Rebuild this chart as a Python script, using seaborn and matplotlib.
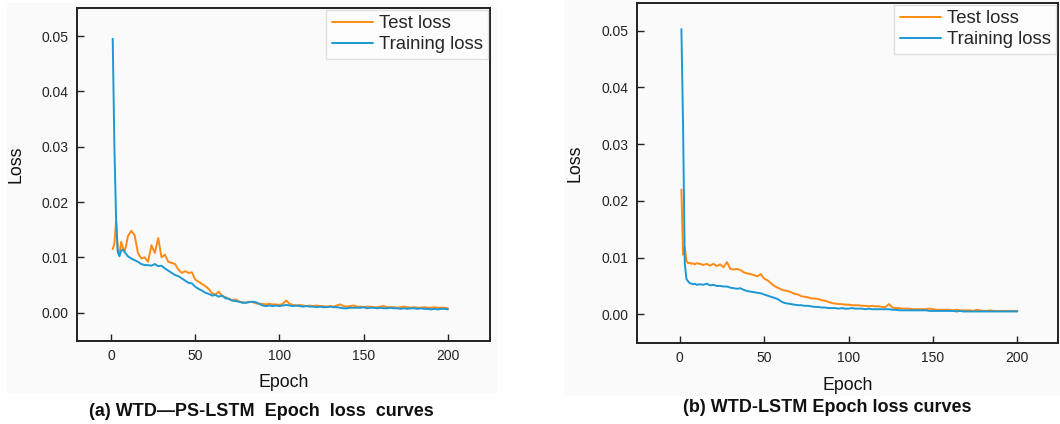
import numpy as np
import pandas as pd
import matplotlib
matplotlib.use("Agg")
import matplotlib.pyplot as plt
import seaborn as sns
from matplotlib.patches import Rectangle

# ---------------- data ----------------
epochs = list(range(1, 11)) + list(range(12, 201, 2))

test_a = [0.0115, 0.0125, 0.0165, 0.0112, 0.0105, 0.0128, 0.0118, 0.0110, 0.0122, 0.0138,
          0.0148, 0.0140, 0.0108, 0.0098, 0.0100, 0.0092, 0.0122, 0.0108, 0.0135, 0.0100,
          0.0105, 0.0092, 0.0090, 0.0088, 0.0078, 0.0072, 0.0075, 0.0072, 0.0073, 0.0060,
          0.0056, 0.0052, 0.0048, 0.0043, 0.0035, 0.0033, 0.0038, 0.0030, 0.0028, 0.0025,
          0.0022, 0.0024, 0.0020, 0.0019, 0.0018, 0.0020, 0.0019, 0.0017, 0.0016, 0.0016,
          0.0015, 0.0016, 0.0015, 0.0015, 0.0014, 0.0016, 0.0022, 0.0016, 0.0014, 0.0013,
          0.0014, 0.0013, 0.0012, 0.0013, 0.0012, 0.0013, 0.0012, 0.0012, 0.0011, 0.0012,
          0.0011, 0.0013, 0.0015, 0.0012, 0.0011, 0.0012, 0.0013, 0.0011, 0.0011, 0.0010,
          0.0011, 0.0011, 0.0010, 0.0010, 0.0011, 0.0012, 0.0010, 0.0010, 0.0010, 0.0009,
          0.0010, 0.0011, 0.0010, 0.0009, 0.0010, 0.0009, 0.0009, 0.0010, 0.0009, 0.0009,
          0.0010, 0.0009, 0.0009, 0.0009, 0.0008]

train_a = [0.0495, 0.0300, 0.0170, 0.0110, 0.0102, 0.0112, 0.0114, 0.0110, 0.0106, 0.0102,
           0.0098, 0.0095, 0.0092, 0.0088, 0.0086, 0.0086, 0.0085, 0.0088, 0.0084, 0.0085,
           0.0080, 0.0076, 0.0072, 0.0068, 0.0066, 0.0062, 0.0058, 0.0054, 0.0053, 0.0047,
           0.0043, 0.0040, 0.0036, 0.0034, 0.0031, 0.0032, 0.0029, 0.0031, 0.0026, 0.0025,
           0.0022, 0.0021, 0.0020, 0.0018, 0.0018, 0.0019, 0.0020, 0.0019, 0.0016, 0.0013,
           0.0012, 0.0013, 0.0012, 0.0013, 0.0012, 0.0013, 0.0014, 0.0013, 0.0012, 0.0013,
           0.0012, 0.0011, 0.0012, 0.0011, 0.0011, 0.0010, 0.0011, 0.0010, 0.0010, 0.0011,
           0.0010, 0.0010, 0.0009, 0.0008, 0.0008, 0.0009, 0.0009, 0.0009, 0.0009, 0.0010,
           0.0008, 0.0009, 0.0009, 0.0008, 0.0009, 0.0008, 0.0008, 0.0009, 0.0008, 0.0008,
           0.0007, 0.0008, 0.0007, 0.0008, 0.0008, 0.0007, 0.0008, 0.0007, 0.0007, 0.0006,
           0.0007, 0.0006, 0.0007, 0.0007, 0.0006]

test_b = [0.0220, 0.0105, 0.0118, 0.0094, 0.0090, 0.0091, 0.0089, 0.0090, 0.0088, 0.0090,
          0.0089, 0.0087, 0.0089, 0.0086, 0.0089, 0.0085, 0.0088, 0.0083, 0.0092, 0.0080,
          0.0079, 0.0080, 0.0078, 0.0074, 0.0072, 0.0071, 0.0069, 0.0067, 0.0071, 0.0063,
          0.0060, 0.0055, 0.0050, 0.0047, 0.0044, 0.0042, 0.0041, 0.0039, 0.0036, 0.0035,
          0.0032, 0.0031, 0.0030, 0.0028, 0.0028, 0.0027, 0.0025, 0.0024, 0.0022, 0.0020,
          0.0019, 0.0018, 0.0018, 0.0017, 0.0017, 0.0016, 0.0016, 0.0016, 0.0015, 0.0015,
          0.0014, 0.0015, 0.0014, 0.0014, 0.0013, 0.0013, 0.0018, 0.0012, 0.0011, 0.0011,
          0.0010, 0.0010, 0.0010, 0.0009, 0.0009, 0.0009, 0.0009, 0.0009, 0.0010, 0.0009,
          0.0008, 0.0008, 0.0008, 0.0008, 0.0008, 0.0007, 0.0008, 0.0007, 0.0007, 0.0007,
          0.0007, 0.0006, 0.0008, 0.0007, 0.0006, 0.0006, 0.0007, 0.0006, 0.0006, 0.0006,
          0.0006, 0.0006, 0.0006, 0.0006, 0.0006]

train_b = [0.0503, 0.0330, 0.0090, 0.0062, 0.0058, 0.0055, 0.0054, 0.0053, 0.0054, 0.0052,
           0.0053, 0.0052, 0.0054, 0.0051, 0.0052, 0.0050, 0.0050, 0.0049, 0.0049, 0.0047,
           0.0046, 0.0045, 0.0046, 0.0043, 0.0041, 0.0040, 0.0039, 0.0038, 0.0037, 0.0035,
           0.0033, 0.0031, 0.0029, 0.0027, 0.0023, 0.0020, 0.0019, 0.0018, 0.0017, 0.0016,
           0.0016, 0.0015, 0.0015, 0.0014, 0.0013, 0.0013, 0.0012, 0.0012, 0.0011, 0.0011,
           0.0011, 0.0010, 0.0011, 0.0010, 0.0010, 0.0011, 0.0010, 0.0010, 0.0010, 0.0009,
           0.0010, 0.0009, 0.0009, 0.0009, 0.0009, 0.0009, 0.0009, 0.0008, 0.0008, 0.0007,
           0.0007, 0.0007, 0.0007, 0.0007, 0.0007, 0.0007, 0.0007, 0.0007, 0.0006, 0.0006,
           0.0006, 0.0006, 0.0006, 0.0006, 0.0006, 0.0006, 0.0005, 0.0006, 0.0005, 0.0005,
           0.0005, 0.0005, 0.0005, 0.0005, 0.0005, 0.0005, 0.0005, 0.0005, 0.0005, 0.0005,
           0.0005, 0.0005, 0.0005, 0.0005, 0.0005]

series_names = ["Test loss", "Training loss"]
series_colors = ["#FF8A14", "#1B98D5"]
y_ticks = [0.00, 0.01, 0.02, 0.03, 0.04, 0.05]
x_ticks = [0, 50, 100, 150, 200]
captions = ["(a) WTD\u2014PS-LSTM  Epoch  loss  curves", "(b) WTD-LSTM Epoch loss curves"]

# ---------------- style ----------------
sns.set_theme(style="white")
plt.rcParams["font.family"] = ["Liberation Sans", "DejaVu Sans"]

fig = plt.figure(figsize=(10.6, 4.24), dpi=100)
fig.patch.set_facecolor("white")

bg = "#fafafa"
fig.patches.append(Rectangle((7 / 1060, 1 - 394 / 424), 490 / 1060, 391 / 424,
                             transform=fig.transFigure, facecolor=bg, edgecolor="none", zorder=-10))
fig.patches.append(Rectangle((564 / 1060, 1 - 396 / 424), 496 / 1060, 396 / 424,
                             transform=fig.transFigure, facecolor=bg, edgecolor="none", zorder=-10))

ax_a = fig.add_axes([77 / 1060, 1 - 341 / 424, 413 / 1060, 333 / 424])
ax_b = fig.add_axes([637 / 1060, 1 - 343 / 424, 421 / 1060, 340 / 424])

panels = [
    (ax_a, test_a, train_a, (-20.2, 225), (-0.00511, 0.05506)),
    (ax_b, test_b, train_b, (-25.3, 224.1), (-0.00506, 0.0549)),
]

for ax, test, train, xl, yl in panels:
    df = pd.DataFrame({
        "Epoch": epochs * 2,
        "Loss": test + train,
        "Series": [series_names[0]] * len(epochs) + [series_names[1]] * len(epochs),
    })
    sns.lineplot(data=df, x="Epoch", y="Loss", hue="Series", hue_order=series_names,
                 palette=series_colors, linewidth=1.4, ax=ax, legend=True)
    ax.set_facecolor(bg)
    ax.set_xlim(*xl)
    ax.set_ylim(*yl)
    ax.set_xticks(x_ticks)
    ax.set_yticks(y_ticks)
    ax.set_yticklabels([f"{v:.2f}" for v in y_ticks])
    ax.tick_params(axis="both", which="major", direction="in", length=5, width=1.0,
                   color="#222222", labelsize=10, labelcolor="#222222", pad=6,
                   left=True, bottom=True, top=False, right=False)
    for sp in ax.spines.values():
        sp.set_visible(True)
        sp.set_linewidth(1.4)
        sp.set_color("#222222")
    ax.set_xlabel("Epoch", fontsize=12.8, color="#111111")
    ax.set_ylabel("Loss", fontsize=12.8, color="#111111")
    ax.xaxis.set_label_coords(0.5, -0.099)
    ax.xaxis.label.set_va("top")
    ax.yaxis.set_label_coords(-0.128, 0.53)
    leg = ax.legend(loc="upper right", fontsize=13.3, frameon=True, fancybox=False,
                    borderaxespad=0.1, handlelength=2.25, handletextpad=0.3,
                    labelspacing=0.2, borderpad=0.3, shadow=False)
    leg.get_frame().set_edgecolor("#d8d8d8")
    leg.get_frame().set_facecolor("white")
    leg.get_frame().set_linewidth(1.0)
    for line in leg.get_lines():
        line.set_linewidth(1.4)

fig.text(261 / 1060, 1 - 411 / 424, captions[0], ha="center", va="center",
         fontsize=13, fontweight="bold", color="#111111")
fig.text(827 / 1060, 1 - 407 / 424, captions[1], ha="center", va="center",
         fontsize=13, fontweight="bold", color="#111111")

fig.savefig("out.png", dpi=100, facecolor="white")
